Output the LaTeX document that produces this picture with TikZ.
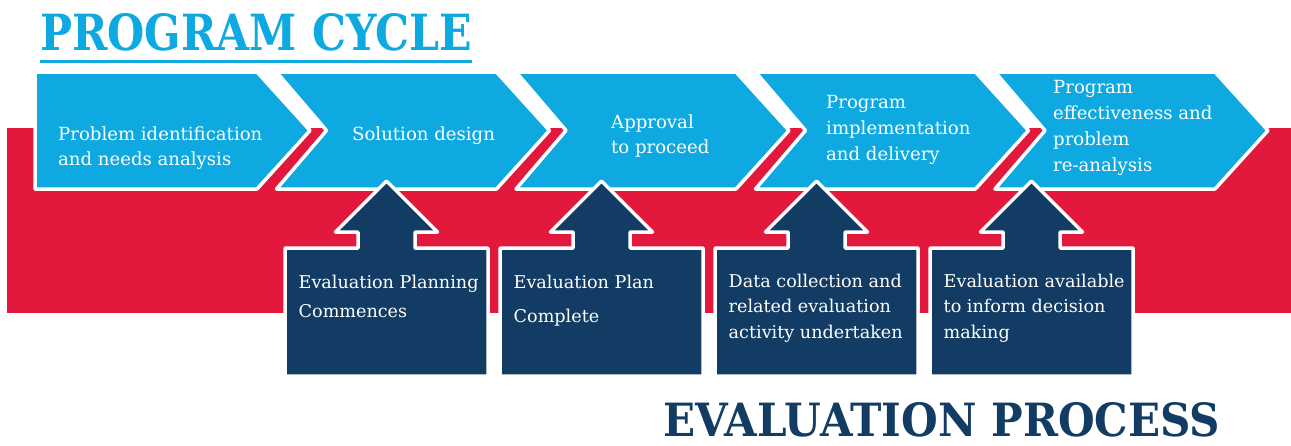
\documentclass[tikz,border=0pt]{standalone}
\usepackage{graphicx}
\usepackage{fontspec}
\setmainfont{DejaVu Serif}
\definecolor{pcblue}{HTML}{0DA9E0}
\definecolor{pcred}{HTML}{E3183D}
\definecolor{pcnavy}{HTML}{133C64}
\newcommand{\mlines}[2]{\vtop{\baselineskip=#1\relax\lineskiplimit=-100pt\halign{##\hfil\cr#2\crcr}}}
\tikzset{
  chev/.style={fill=pcblue, draw=white, line width=3.5pt, line join=round},
  evbox/.style={fill=pcnavy, draw=white, line width=3.5pt, line join=round},
  ctext/.style={anchor=base west, inner sep=0pt, text=white, font=\fontsize{18.1}{25}\selectfont},
  btext/.style={anchor=base west, inner sep=0pt, text=white, font=\fontsize{17.6}{26}\selectfont},
  ttl/.style={anchor=base west, inner sep=0pt}
}
\begin{document}
\begin{tikzpicture}[x=1pt,y=-1pt]
\useasboundingbox (0,0) rectangle (1291,445);
% red band
\fill[pcred] (7,128) rectangle (1295,313);
% program cycle chevrons
\draw[chev] (35,72) -- (257,72) -- (310,130.5) -- (257,189) -- (35,189) -- cycle;
\draw[chev] (276.5,72) -- (496.5,72) -- (549.5,130.5) -- (496.5,189) -- (276.5,189) -- (326.5,130.5) -- cycle;
\draw[chev] (516,72) -- (736,72) -- (789,130.5) -- (736,189) -- (516,189) -- (566,130.5) -- cycle;
\draw[chev] (755.5,72) -- (975.5,72) -- (1028.5,130.5) -- (975.5,189) -- (755.5,189) -- (805.5,130.5) -- cycle;
\draw[chev] (995,72) -- (1215,72) -- (1268,130.5) -- (1215,189) -- (995,189) -- (1045,130.5) -- cycle;
% evaluation boxes with up arrows
\foreach \c in {386.5,601.5,816.5,1031.5}{
  \draw[evbox] (\c,181) -- ({\c+51},232) -- ({\c+28.5},232) -- ({\c+28.5},248)
    -- ({\c+101.5},248) -- ({\c+101.5},376) -- ({\c-101.5},376) -- ({\c-101.5},248)
    -- ({\c-28.5},248) -- ({\c-28.5},232) -- ({\c-51},232) -- cycle;
}
% chevron texts
\node[ctext] (c1) at (58,140) {\mlines{25pt}{Problem identification\cr and needs analysis}};
\node[ctext] (c2) at (352,140) {Solution design};
\node[ctext] (c3) at (611,128) {\mlines{25pt}{Approval\cr to proceed}};
\node[ctext] (c4) at (826,108) {\mlines{26pt}{Program\cr implementation\cr and delivery}};
\node[ctext] (c5) at (1053,93) {\mlines{26.3pt}{Program\cr effectiveness and\cr problem\cr re-analysis}};
% box texts
\node[btext] (b1) at (298.5,288) {\mlines{29pt}{Evaluation Planning\cr Commences}};
\node[btext] (b2) at (513.5,288) {\mlines{34pt}{Evaluation Plan\cr Complete}};
\node[btext] (b3) at (728.5,287) {\mlines{25.5pt}{Data collection and\cr related evaluation\cr activity undertaken}};
\node[btext] (b4) at (943.5,287) {\mlines{25.5pt}{Evaluation available\cr to inform decision\cr making}};
% titles
\node[ttl, text=pcblue] (t1) at (40,50) {\resizebox{432pt}{37pt}{\bfseries PROGRAM CYCLE}};
\draw[pcblue, line width=3pt] (40,61.5) -- (472,61.5);
\node[ttl, text=pcnavy] (t2) at (663,436.5) {\resizebox{557pt}{34pt}{\bfseries EVALUATION PROCESS}};
\end{tikzpicture}
\end{document}
